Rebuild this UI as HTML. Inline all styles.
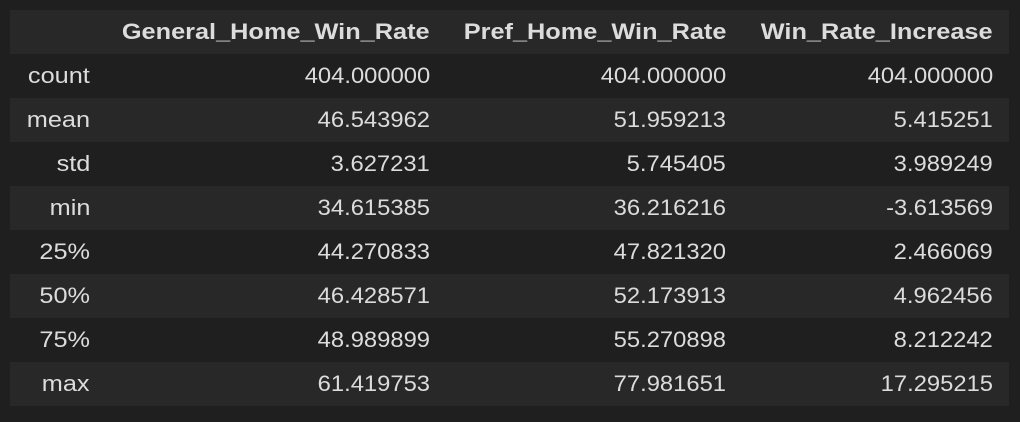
<!DOCTYPE html>
<html><head><meta charset="utf-8"><style>
html,body{margin:0;padding:0;background:#1f1f1f;width:1020px;height:422px;overflow:hidden}
#t{position:absolute;left:10px;top:10px;width:999px}
.r{position:absolute;left:0;width:999px;height:44px}
.l{background:#282828}
.c{position:absolute;top:0;height:44px;line-height:44px;font-family:"Liberation Sans",sans-serif;font-size:22px;color:#dcdcdc;text-align:right;white-space:nowrap;transform-origin:100% 50%;transform:scaleX(1.08)}
.h .c{font-weight:bold;transform:scaleX(1.15)}
.c.lab{transform:scaleX(1.15)}
</style></head><body>
<div id="t"></div>
<script>
const cols=["General_Home_Win_Rate","Pref_Home_Win_Rate","Win_Rate_Increase"];
const idx=["count","mean","std","min","25%","50%","75%","max"];
const v1=["404.000000","46.543962","3.627231","34.615385","44.270833","46.428571","48.989899","61.419753"];
const v2=["404.000000","51.959213","5.745405","36.216216","47.821320","52.173913","55.270898","77.981651"];
const v3=["404.000000","5.415251","3.989249","-3.613569","2.466069","4.962456","8.212242","17.295215"];
const t=document.getElementById('t');
const rights=[420,716,983];
function cell(row,text,right,name,cls){const c=document.createElement('div');c.className='c'+(cls?' '+cls:'');c.textContent=text;c.style.right=(999-right)+'px';


row.appendChild(c);}
const h=document.createElement('div');h.className='r h l';h.style.top='0px';


cols.forEach((s,i)=>cell(h,s,rights[i],'column-header'));t.appendChild(h);
idx.forEach((s,i)=>{const r=document.createElement('div');r.className='r'+(i%2?' l':'');r.style.top=(44*(i+1))+'px';


cell(r,s,80,'row-label','lab');
[v1,v2,v3].forEach((a,j)=>cell(r,a[i],rights[j],'value-cell'));t.appendChild(r);});
</script>
</body></html>
